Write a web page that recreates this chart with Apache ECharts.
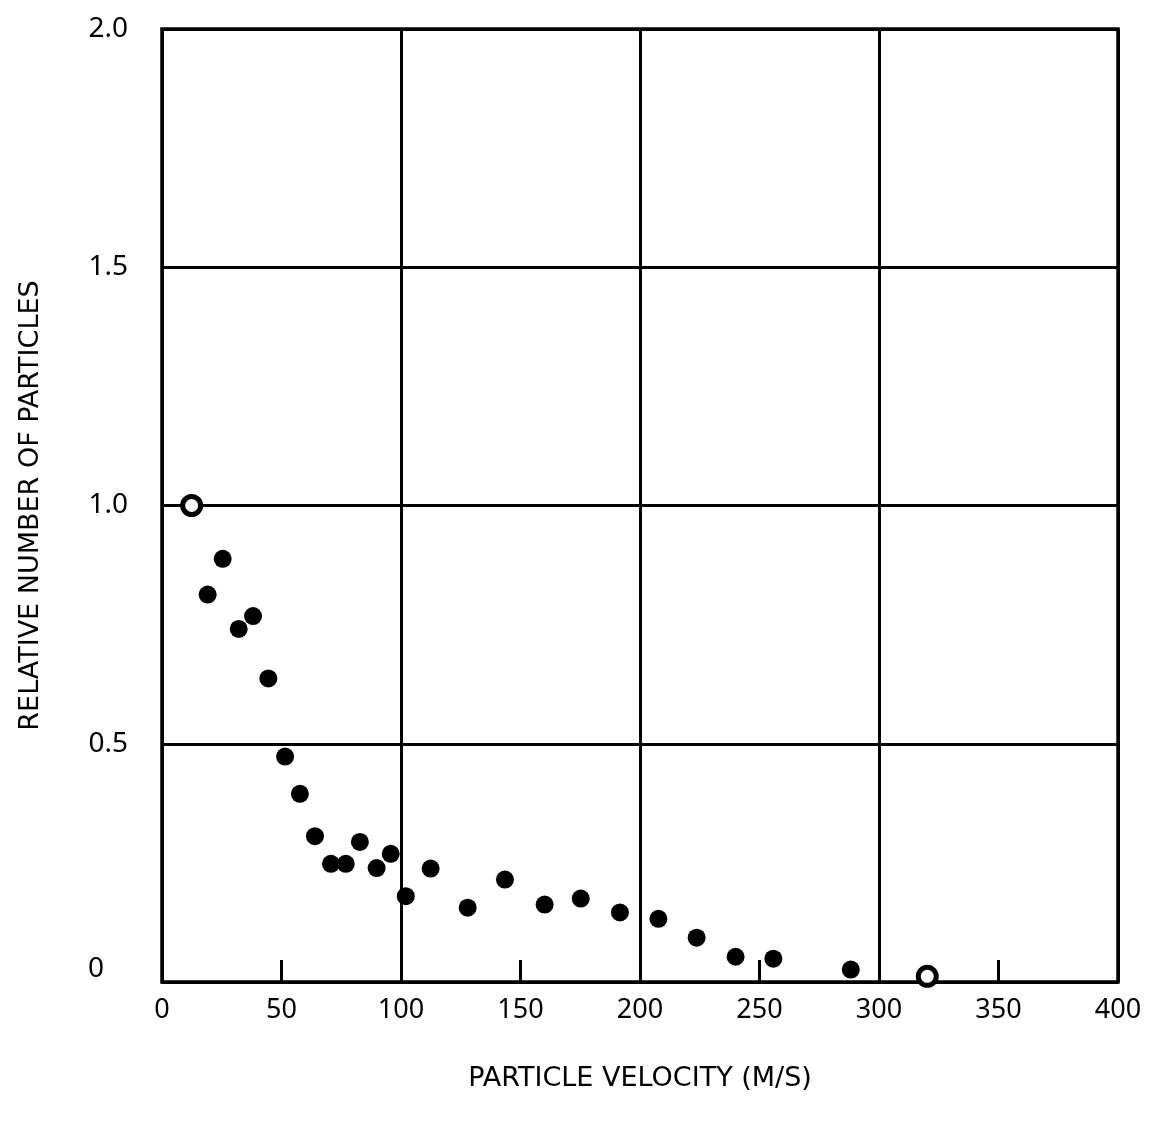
<!DOCTYPE html>
<html>
<head>
<meta charset="utf-8">
<title>Particle velocity</title>
<script src="https://cdn.jsdelivr.net/npm/echarts@6/dist/echarts.min.js"></script>
<style>
  html, body { margin: 0; padding: 0; background: #fff; }
  #chart { width: 1152px; height: 1128px; }
</style>
</head>
<body>
<div id="chart"></div>
<script>
// velocity (m/s) and relative number of particles
var velocity = [12.4, 19.1, 25.4, 32.1, 38.1, 44.5, 51.5, 57.7, 64.0, 70.7, 76.9, 82.8, 89.8, 95.7,
                102.0, 112.4, 127.9, 143.5, 160.1, 175.2, 191.6, 207.7, 223.7, 240.0, 255.8, 288.2, 320.2];
var relNumber = [1.00, 0.813, 0.888, 0.741, 0.768, 0.637, 0.473, 0.395, 0.306, 0.248, 0.248, 0.294, 0.239, 0.269,
                 0.180, 0.238, 0.156, 0.215, 0.1625, 0.175, 0.146, 0.1325, 0.093, 0.053, 0.049, 0.026, 0.012];
var xTicks = [0, 50, 100, 150, 200, 250, 300, 350, 400];
var yTicks = [0, 0.5, 1.0, 1.5, 2.0];

// points drawn as open rings in the original
var openIdx = [0, velocity.length - 1];

var font = 'Noto Sans';
var titleFont = 'DejaVu Sans';

var points = [];
for (var i = 0; i < velocity.length; i++) {
    var item = { value: [velocity[i], relNumber[i]] };
    if (openIdx.indexOf(i) >= 0) {
        item.itemStyle = { color: '#fff', borderColor: '#000', borderWidth: 5 };
    }
    points.push(item);
}

var myChart = echarts.init(document.getElementById('chart'));
myChart.setOption({
    backgroundColor: '#fff',
    animation: false,
    grid: {
        left: 162,
        right: 34,
        top: 29,
        bottom: 146,
        show: true,
        borderColor: '#000',
        borderWidth: 3.5
    },
    xAxis: [
        {
            type: 'value',
            min: xTicks[0],
            max: xTicks[xTicks.length - 1],
            interval: 50,
            name: 'PARTICLE VELOCITY (M/S)',
            nameLocation: 'middle',
            nameGap: 83,
            nameTextStyle: { color: '#000', fontFamily: titleFont, fontSize: 27 },
            axisLine: { show: false },
            axisTick: { show: true, inside: true, length: 22, lineStyle: { color: '#000', width: 3 } },
            axisLabel: { color: '#000', fontFamily: font, fontSize: 27, margin: 15 },
            splitLine: { show: false }
        },
        {
            // only carries the heavy grid lines at every 100
            type: 'value',
            position: 'top',
            min: xTicks[0],
            max: xTicks[xTicks.length - 1],
            interval: 100,
            axisLine: { show: false },
            axisTick: { show: false },
            axisLabel: { show: false },
            splitLine: { show: true, lineStyle: { color: '#000', width: 3 } }
        }
    ],
    yAxis: {
        type: 'value',
        min: yTicks[0],
        max: yTicks[yTicks.length - 1],
        interval: 0.5,
        name: 'RELATIVE NUMBER OF PARTICLES',
        nameLocation: 'middle',
        nameGap: 118,
        nameTextStyle: { color: '#000', fontFamily: titleFont, fontSize: 27 },
        axisLine: { show: false },
        axisTick: { show: false },
        axisLabel: {
            color: '#000',
            fontFamily: font,
            fontSize: 28,
            margin: 34,
            formatter: function (v) { return v === 0 ? '{z|0}' : v.toFixed(1); },
            rich: {
                z: { color: '#000', fontFamily: font, fontSize: 28, padding: [0, 24, 26, 0] }
            }
        },
        splitLine: { show: true, lineStyle: { color: '#000', width: 3 } }
    },
    series: [
        {
            type: 'scatter',
            xAxisIndex: 0,
            symbol: 'circle',
            symbolSize: 18,
            itemStyle: { color: '#000', opacity: 1 },
            data: points
        }
    ]
});
</script>
</body>
</html>
